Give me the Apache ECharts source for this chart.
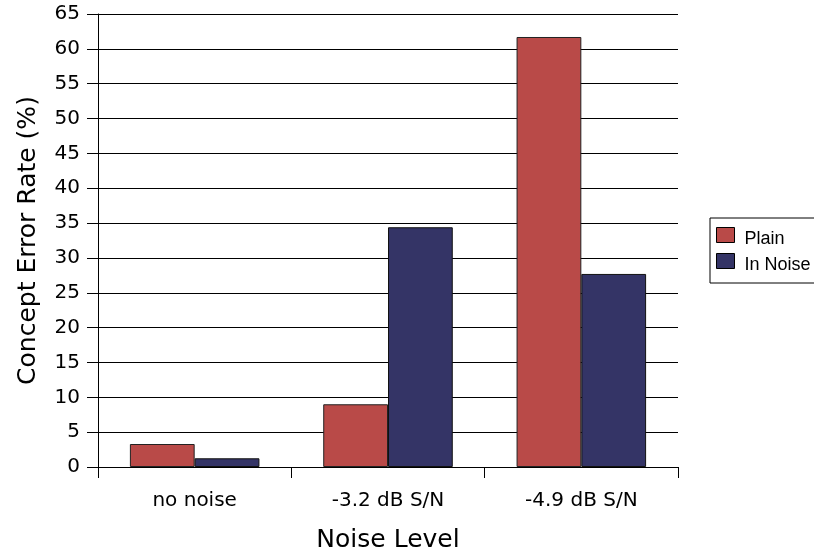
<!DOCTYPE html>
<html><head><meta charset="utf-8">
<script src="https://cdn.jsdelivr.net/npm/echarts@6/dist/echarts.min.js"></script>
<style>html,body{margin:0;padding:0;background:#fff}#c{width:814px;height:556px}</style>
</head><body><div id="c"></div>
<script>
const categories = ['no noise', '-3.2 dB S/N', '-4.9 dB S/N'];
const plainValues = [3.3, 9.0, 61.7];
const inNoiseValues = [1.25, 34.4, 27.7];
const seriesNames = ['Plain', 'In Noise'];

const chart = echarts.init(document.getElementById('c'), null, {renderer: 'canvas'});
const wide = '"DejaVu Sans", sans-serif';
const narrow = '"Liberation Sans", Arial, sans-serif';
chart.setOption({
  animation: false,
  backgroundColor: '#fff',
  textStyle: {fontFamily: wide, color: '#000'},
  grid: {left: 98, right: 136, top: 14, bottom: 89, outerBoundsMode: 'none', containLabel: false},
  legend: {
    orient: 'vertical', left: 710, top: 218,
    data: seriesNames,
    borderColor: '#000', borderWidth: 1,
    padding: [9, 4, 9, 6],
    itemWidth: 18, itemHeight: 15, itemGap: 5,
    icon: 'rect',
    itemStyle: {borderColor: '#000', borderWidth: 1},
    formatter: '{t|{name}}',
    textStyle: {
      fontFamily: narrow, fontSize: 18, color: '#000',
      rich: {t: {fontFamily: narrow, fontSize: 18, color: '#000', padding: [8, 0, 0, 5], height: 26, verticalAlign: 'bottom'}}
    }
  },
  xAxis: {
    type: 'category', data: categories,
    name: 'Noise Level', nameLocation: 'middle', nameGap: 61,
    nameTextStyle: {fontFamily: wide, fontSize: 25, color: '#000'},
    axisLine: {lineStyle: {color: '#000', width: 1}},
    axisTick: {show: true, length: 11, lineStyle: {color: '#000'}},
    axisLabel: {fontFamily: wide, fontSize: 20, color: '#000', margin: 24}
  },
  yAxis: {
    type: 'value', min: 0, max: 65, interval: 5,
    name: 'Concept Error Rate (%)', nameLocation: 'middle', nameGap: 57,
    nameTextStyle: {fontFamily: wide, fontSize: 25, color: '#000'},
    axisLine: {show: true, lineStyle: {color: '#000', width: 1}},
    axisTick: {show: true, length: 11, lineStyle: {color: '#000'}},
    axisLabel: {fontFamily: wide, fontSize: 20, color: '#000', margin: 18},
    splitLine: {show: true, lineStyle: {color: '#000', width: 1}}
  },
  series: [
    {name: seriesNames[0], type: 'bar', data: plainValues, barGap: '0%', barCategoryGap: '33%',
     itemStyle: {color: '#B94A48', borderColor: '#222', borderWidth: 1}},
    {name: seriesNames[1], type: 'bar', data: inNoiseValues, barGap: '0%', barCategoryGap: '33%',
     itemStyle: {color: '#343466', borderColor: '#111', borderWidth: 1}}
  ]
});
</script></body></html>
